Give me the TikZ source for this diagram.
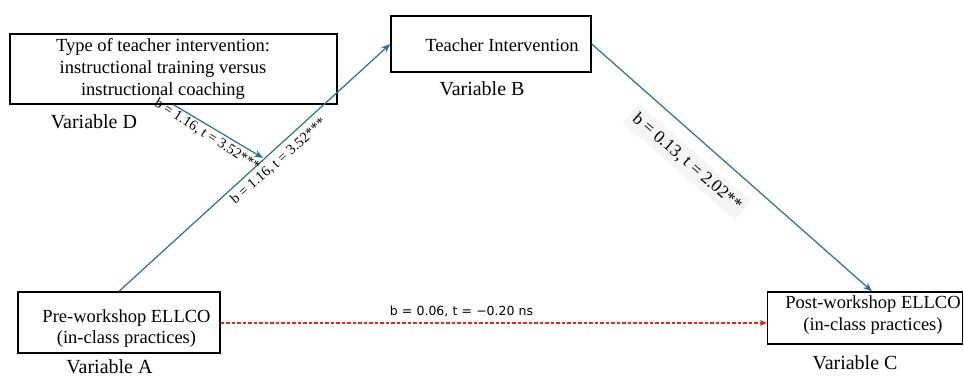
\documentclass[tikz,border=0pt]{standalone}
\usepackage{fontspec}
\setmainfont{Liberation Serif}
\newfontfamily\lblfont{DejaVu Sans}
\usetikzlibrary{arrows.meta,calc}
\definecolor{arrowblue}{HTML}{2A6F97}
\definecolor{dashred}{HTML}{FF1A1A}
\begin{document}
\begin{tikzpicture}[x=1pt,y=-1pt,
  box/.style={draw=black, line width=1.4pt, inner sep=0pt},
  boxtext/.style={font=\fontsize{18.5}{22}\selectfont, align=center, inner sep=0pt},
  varlabel/.style={font=\fontsize{20}{24}\selectfont, inner sep=0pt, anchor=base},
  pathlabel/.style={font=\fontsize{14.5}{16}\selectfont, inner sep=1pt},
  conn/.style={draw=arrowblue, line width=1.2pt, -{Stealth[length=9pt,width=7pt]}},
  dashconn/.style={draw=dashred, line width=1.3pt, dash pattern=on 3.5pt off 2pt, -{Stealth[length=7pt,width=6pt]}},
]
\useasboundingbox (0,0) rectangle (964,377);

% boxes
\node[box, minimum width=327pt, minimum height=70pt] (Dbox) at (173.5,69) {};
\node[box, minimum width=200pt, minimum height=56pt] (Bbox) at (491,44) {};
\node[box, minimum width=202pt, minimum height=61pt] (Abox) at (119,322.5) {};
\node[box, minimum width=195pt, minimum height=52pt] (Cbox) at (865,318) {};

% box texts
\node[boxtext] (Dtext) at (163,68.6) {Type of teacher intervention:\\instructional training versus\\instructional coaching};
\node[boxtext, anchor=base] (Btext) at (502,52) {Teacher Intervention};
\node[boxtext, font=\fontsize{18.5}{20.5}\selectfont] (Atext) at (126.5,328.6) {Pre-workshop ELLCO\\(in-class practices)};
\node[boxtext] (Ctext) at (873,314.6) {Post-workshop ELLCO\\(in-class practices)};

% variable labels
\node[varlabel] (Dvar) at (94,129) {Variable D};
\node[varlabel] (Bvar) at (482,96) {Variable B};
\node[varlabel] (Avar) at (109.5,373) {Variable A};
\node[varlabel] (Cvar) at (855,369) {Variable C};

% path labels (background one first)
\node[pathlabel, font=\fontsize{17.5}{19}\selectfont, rotate=-41, fill=black!4, inner sep=5pt] (BClab) at (687,162) {b = 0.13, t = 2.02**};

% connectors
\coordinate (Dend) at (263,158);
\draw[conn] (Abox.north) -- (Bbox.west);
\draw[conn] (Bbox.east) -- ([xshift=7pt]Cbox.north);
\draw[conn] (Dbox.south) -- (Dend);
\draw[dashconn] ([yshift=-0.5pt]Abox.east) -- ([yshift=-0.5pt]Abox.east -| Cbox.west);

\node[pathlabel, rotate=-32.5] (Dlab) at (207,135) {b = 1.16, t = 3.52***};
\node[pathlabel, rotate=41.5] (ABlab) at (278.5,161.5) {b = 1.16, t = 3.52***};
\node[font=\lblfont\fontsize{12.5}{14}\selectfont, inner sep=0pt, anchor=base] (AClab) at (461.5,315) {b\,\,=\,\,0.06,\,\,t\,\,=\,\,\textminus0.20\,\,ns};
\end{tikzpicture}
\end{document}
